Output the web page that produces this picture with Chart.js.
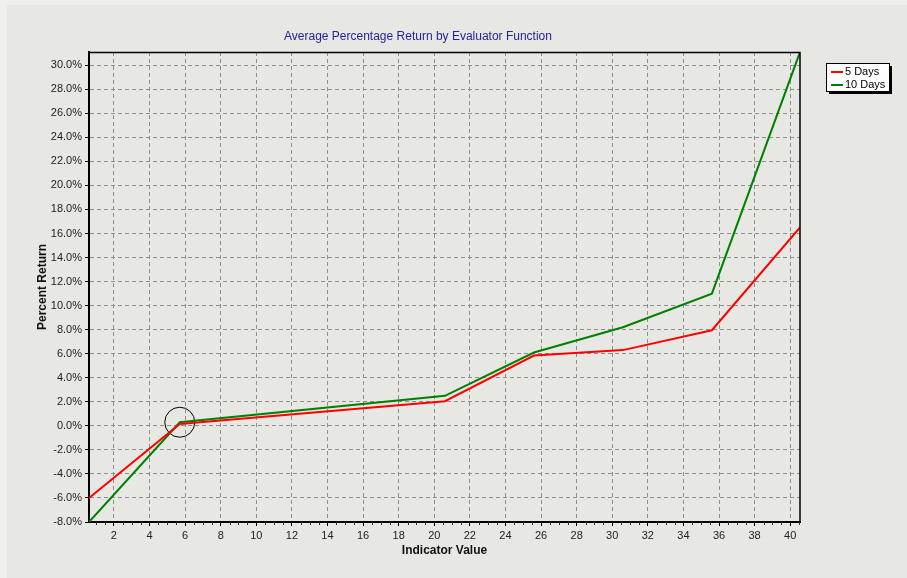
<!DOCTYPE html>
<html>
<head>
<meta charset="utf-8">
<script src="https://cdn.jsdelivr.net/npm/chart.js@4/dist/chart.umd.min.js"></script>
<style>
  html, body { margin: 0; padding: 0; background: #efefed; }
  #wrap { position: relative; width: 907px; height: 578px; }
</style>
</head>
<body>
<div id="wrap"><canvas id="myChart" width="907" height="578"></canvas></div>
<script>
// indicator values where the lines bend
const indicatorValues = [0.6, 5.7, 20.6, 25.6, 30.6, 35.6, 40.55];
const fiveDays = [-6.0, 0.15, 2.05, 5.85, 6.3, 7.95, 16.5];
const tenDays = [-8.0, 0.3, 2.5, 6.1, 8.2, 11.0, 31.1];
const xTickValues = [2, 4, 6, 8, 10, 12, 14, 16, 18, 20, 22, 24, 26, 28, 30, 32, 34, 36, 38, 40];
const yTickValues = [-8, -6, -4, -2, 0, 2, 4, 6, 8, 10, 12, 14, 16, 18, 20, 22, 24, 26, 28, 30];
const circled = [{ x: 5.7, y: 0.3 }];

const titleText = "Average Percentage Return by Evaluator Function";

function pts(vals) {
  return indicatorValues.map((x, i) => ({ x: x, y: vals[i] }));
}

// background, title, frame, minor ticks, legend
const decor = {
  id: "decor",
  beforeDraw(chart) {
    const c = chart.ctx;
    c.save();
    c.fillStyle = "#efefed";
    c.fillRect(0, 0, chart.width, chart.height);
    c.fillStyle = "#e7e7e3";
    c.fillRect(7, 5, chart.width - 7, chart.height - 5);
    c.restore();
  },
  afterDraw(chart) {
    const c = chart.ctx;
    const a = chart.chartArea;
    const xs = chart.scales.x;
    c.save();
    // title
    c.fillStyle = "#24249a";
    c.font = "12px 'Liberation Sans', Arial, sans-serif";
    c.textAlign = "center";
    c.textBaseline = "middle";
    c.fillText(titleText, 418, 37);
    // frame
    c.strokeStyle = "#000";
    c.lineWidth = 1.5;
    c.beginPath();
    c.moveTo(a.left, a.top + 0.5);
    c.lineTo(a.right, a.top + 0.5);
    c.lineTo(a.right, a.bottom);
    c.stroke();
    // minor ticks
    c.lineWidth = 1;
    c.strokeStyle = "#333";
    for (let v = 1; v <= 40.5; v += 0.5) {
      if (v % 2 === 0) continue;
      const px = Math.round(xs.getPixelForValue(v)) + 0.5;
      c.beginPath();
      c.moveTo(px, a.bottom);
      c.lineTo(px, a.bottom + 3);
      c.stroke();
    }
    // legend
    const lx = 826, ly = 63, lw = 63, lh = 28;
    c.fillStyle = "#000";
    c.fillRect(lx + 3, ly + 3, lw, lh);
    c.fillStyle = "#fff";
    c.fillRect(lx, ly, lw, lh);
    c.strokeStyle = "#000";
    c.strokeRect(lx + 0.5, ly + 0.5, lw, lh);
    c.font = "11px 'Liberation Sans', Arial, sans-serif";
    c.textAlign = "left";
    chart.data.datasets.slice(0, 2).forEach((ds, i) => {
      const yy = ly + 9 + i * 13;
      c.strokeStyle = ds.borderColor;
      c.lineWidth = 2;
      c.beginPath();
      c.moveTo(lx + 5, yy);
      c.lineTo(lx + 17, yy);
      c.stroke();
      c.fillStyle = "#000";
      c.fillText(ds.label, lx + 19, yy);
    });
    c.restore();
  }
};

const tickFont = { family: "'Liberation Sans', Arial, sans-serif", size: 11 };
const titleFont = { family: "'Liberation Sans', Arial, sans-serif", size: 12, weight: "bold" };

const gridOpts = {
  color: "#8f8f8f",
  tickColor: "#000",
  tickLength: 4,
  tickBorderDash: []
};

new Chart(document.getElementById("myChart").getContext("2d"), {
  type: "line",
  data: {
    datasets: [
      {
        label: "5 Days",
        data: pts(fiveDays),
        borderColor: "#ff0000",
        borderWidth: 2,
        pointRadius: 0,
        tension: 0,
        fill: false
      },
      {
        label: "10 Days",
        data: pts(tenDays),
        borderColor: "#008000",
        borderWidth: 2,
        pointRadius: 0,
        tension: 0,
        fill: false
      },
      {
        label: "marker",
        data: circled,
        showLine: false,
        pointRadius: 15,
        pointBorderColor: "#000",
        pointBorderWidth: 1,
        pointBackgroundColor: "rgba(0,0,0,0)"
      }
    ]
  },
  plugins: [decor],
  options: {
    responsive: false,
    animation: false,
    layout: { padding: { left: 0, top: 52, right: 107, bottom: 0 } },
    plugins: {
      legend: { display: false },
      title: { display: false },
      tooltip: { enabled: false }
    },
    scales: {
      x: {
        type: "linear",
        min: 0.6,
        max: 40.55,
        afterBuildTicks: (s) => { s.ticks = xTickValues.map(v => ({ value: v })); },
        afterFit: (s) => { s.height = 56; },
        ticks: { font: tickFont, color: "#222", padding: 3, maxRotation: 0, autoSkip: false },
        grid: gridOpts,
        border: { display: true, color: "#000", width: 2, dash: [4, 3] },
        title: { display: true, text: "Indicator Value", font: titleFont, color: "#111", padding: { top: 0, bottom: 20 } }
      },
      y: {
        min: -8,
        max: 31.1,
        afterBuildTicks: (s) => { s.ticks = yTickValues.map(v => ({ value: v })); },
        afterFit: (s) => { s.width = 89; },
        ticks: {
          font: tickFont,
          color: "#222",
          padding: 3,
          autoSkip: false,
          callback: (v) => v.toFixed(1) + "%"
        },
        grid: gridOpts,
        border: { display: true, color: "#000", width: 2, dash: [4, 3] },
        title: { display: true, text: "Percent Return", font: titleFont, color: "#111", padding: { top: 35, bottom: 0 } }
      }
    }
  }
});
</script>
</body>
</html>
